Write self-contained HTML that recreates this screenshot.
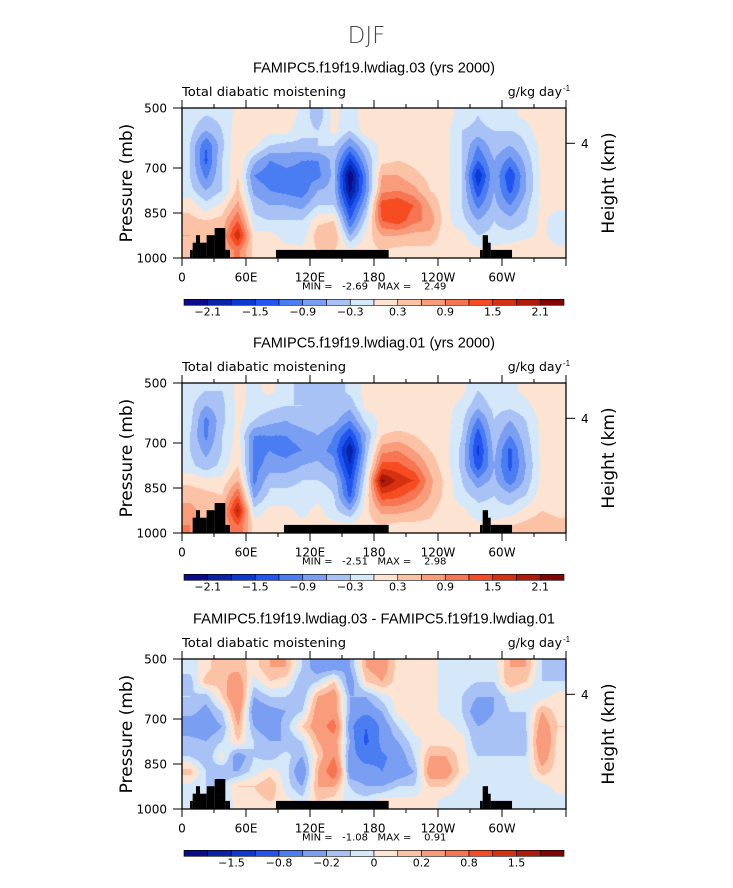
<!DOCTYPE html>
<html><head><meta charset="utf-8">
<style>
html,body{margin:0;padding:0;background:#fff;}
#wrap{position:relative;width:733px;height:888px;overflow:hidden;font-family:"Liberation Sans",sans-serif;}
canvas{position:absolute;}
svg{position:absolute;left:0;top:0;}
</style></head>
<body>
<div id="wrap">
<canvas id="c0" width="384" height="150" style="left:182px;top:108px"></canvas>
<canvas id="c1" width="384" height="150" style="left:182px;top:383px"></canvas>
<canvas id="c2" width="384" height="150" style="left:182px;top:659px"></canvas>
<svg id="s" width="733" height="888"></svg>
</div>
<script>
// ---- data ----
const lonCenters = [7.5,22.5,37.5,52.5,67.5,82.5,97.5,112.5,127.5,142.5,157.5,172.5,187.5,202.5,217.5,232.5,247.5,262.5,277.5,292.5,307.5,322.5,337.5,352.5];
const presCenters = [525,575,625,675,725,775,825,875,925,975];
const xTickLabels = ["0","60E","120E","180","120W","60W"];
const xTickLons = [0,60,120,180,240,300];
const yTickLabels = ["500","700","850","1000"];
const yTickValues = [500,700,850,1000];
const levelsAB = [-2.1,-1.8,-1.5,-1.2,-0.9,-0.6,-0.3,0,0.3,0.6,0.9,1.2,1.5,1.8,2.1];
const levelsC = [-1.8,-1.5,-1.2,-0.8,-0.4,-0.2,-0.1,0,0.1,0.2,0.4,0.8,1.2,1.5,1.8];
const cbLabelsAB = ["-2.1","-1.5","-0.9","-0.3","0.3","0.9","1.5","2.1"];
const cbLabelsC = ["-1.5","-0.8","-0.2","0","0.2","0.8","1.5"];
const palette = ["#0c0c8a","#0a22a8","#0a3ad2","#2255f0","#4a7cf2","#7a9ef2","#a8c2f6","#d4e8fa","#fde4d2","#fcc2a6","#f89c7c","#f77552","#f64c22","#d63212","#b01a08","#820404"];
const topoA = [[7.5,10,973],[10,13.1,949],[13.1,16.9,924],[16.9,23.1,949],[23.1,30.6,924],[30.6,40.6,900],[40.6,45,973],[88.1,193.75,973],[279.4,281.9,973],[281.9,286.9,924],[286.9,289.4,949],[289.4,309.4,973]];
const topoB = [[10,13.1,949],[13.1,16.9,924],[16.9,23.1,949],[23.1,30.6,924],[30.6,40.6,900],[40.6,45,973],[95.6,193.75,973],[279.4,281.9,973],[281.9,286.9,924],[286.9,289.4,949],[289.4,309.4,973]];

const field03 = [
[-0.1,-0.2,-0.3,-0.3,-0.3,-0.2,0.2,0.4,0.6,0.5],
[-0.3,-0.6,-1.2,-1.3,-1.0,-0.6,-0.2,0.3,0.3,0.4],
[-0.2,-0.3,-0.4,-0.3,-0.3,-0.3,0.1,0.4,0.6,0.6],
[0.1,0.2,0.3,0.3,0.3,0.4,0.7,1.2,1.8,1.0],
[0.1,0.2,0.1,-0.5,-0.9,-0.7,-0.4,-0.2,0.1,0.2],
[0.1,0.1,-0.3,-0.9,-1.1,-0.9,-0.6,-0.3,0.1,0.1],
[0.2,0.1,-0.4,-0.8,-1.0,-1.0,-0.6,-0.3,-0.1,0.1],
[-0.1,-0.2,-0.4,-0.9,-1.0,-1.1,-0.7,-0.3,-0.2,0.1],
[-0.5,-0.3,-0.3,-0.9,-1.0,-0.6,-0.3,0.2,0.5,0.3],
[0.1,0.1,-0.3,-0.5,-0.5,-0.5,-0.3,0.3,0.6,0.3],
[-0.2,-0.3,-0.9,-1.6,-2.4,-2.2,-1.6,-1.2,-0.6,0.1],
[0.2,0.2,-0.3,-0.6,-0.9,-0.9,-0.6,-0.2,0.1,0.2],
[0.3,0.3,0.1,0.2,0.6,0.8,1.4,1.2,0.6,0.3],
[0.1,0.1,0.1,0.3,0.6,0.9,1.5,1.4,0.6,0.2],
[0.1,0.1,0.1,0.2,0.4,0.7,1.2,1.0,0.5,0.2],
[0.1,0.1,0.1,0.1,0.2,0.3,0.6,0.8,0.5,0.2],
[0.1,0.1,0.1,0.1,0.1,0.1,0.1,0.1,0.1,0.1],
[-0.1,-0.3,-0.3,-0.3,-0.3,-0.3,-0.3,-0.2,0.1,0.1],
[-0.3,-0.4,-0.9,-1.2,-1.8,-1.4,-1.0,-0.6,-0.3,0.1],
[-0.1,-0.3,-0.4,-0.6,-0.6,-0.6,-0.5,-0.3,-0.2,0.1],
[-0.1,-0.3,-0.6,-1.0,-1.5,-1.3,-0.9,-0.5,-0.2,0.2],
[0.1,-0.2,-0.3,-0.5,-0.6,-0.6,-0.4,-0.3,-0.1,0.3],
[0.3,0.3,0.1,0.1,0.1,0.1,0.1,0.1,0.1,0.2],
[0.1,0.1,0.1,0.1,0.1,0.1,0.1,-0.2,-0.2,0.1]];

const field01 = [
[-0.1,-0.2,-0.2,-0.3,-0.3,-0.2,0.2,0.5,0.7,0.9],
[-0.3,-0.6,-1.0,-1.0,-0.7,-0.5,0.1,0.4,0.5,0.4],
[-0.3,-0.4,-0.4,-0.3,-0.3,-0.2,0.1,0.3,0.5,0.6],
[0.1,0.1,0.1,0.1,0.2,0.3,0.6,1.2,1.9,1.2],
[-0.1,-0.1,-0.3,-0.9,-1.0,-1.0,-1.0,-0.7,-0.2,0.2],
[0.1,-0.2,-0.5,-0.9,-0.9,-0.8,-0.4,-0.2,0.1,0.1],
[-0.2,-0.3,-0.6,-0.9,-1.0,-0.8,-0.4,-0.2,0.1,0.1],
[-0.4,-0.3,-0.4,-0.8,-0.9,-0.6,-0.3,-0.2,-0.1,0.1],
[-0.5,-0.4,-0.3,-0.6,-0.8,-0.5,-0.3,-0.1,0.1,0.1],
[-0.5,-0.3,-0.5,-0.9,-1.0,-0.8,-0.4,-0.3,-0.2,0.1],
[-0.2,-0.5,-0.9,-1.5,-2.1,-1.8,-1.5,-1.3,-0.6,0.1],
[0.1,0.1,-0.2,-0.6,-0.5,-0.3,-0.1,0.1,0.2,0.2],
[0.1,0.1,0.1,0.3,0.8,1.3,2.2,1.4,0.7,0.3],
[0.1,0.1,0.1,0.4,0.9,1.3,1.7,1.3,0.7,0.2],
[0.1,0.1,0.1,0.3,0.6,1.0,1.5,1.0,0.6,0.2],
[0.1,0.1,0.1,0.1,0.3,0.5,0.7,0.6,0.4,0.2],
[0.1,0.1,0.1,0.1,0.1,0.1,0.2,0.2,0.1,0.1],
[0.1,-0.1,-0.2,-0.3,-0.4,-0.4,-0.3,-0.2,0.1,0.1],
[-0.3,-0.5,-1.0,-1.4,-1.6,-1.4,-0.8,-0.4,-0.2,0.1],
[-0.1,-0.2,-0.3,-0.4,-0.5,-0.6,-0.5,-0.3,-0.2,0.1],
[-0.1,-0.2,-0.6,-0.9,-1.3,-1.3,-1.1,-0.5,-0.2,0.3],
[0.1,-0.1,-0.3,-0.4,-0.5,-0.6,-0.5,-0.3,0.1,0.4],
[0.2,0.2,0.1,0.1,0.1,0.1,0.1,0.2,0.3,0.5],
[0.1,0.1,0.1,0.1,0.1,0.1,0.2,0.2,0.2,0.4]];

const fieldDiff = [
[-0.05,-0.15,-0.1,-0.15,-0.3,-0.15,-0.1,0.15,-0.05,-0.1],
[0.05,0.15,-0.15,-0.25,-0.3,-0.2,-0.2,-0.1,-0.1,-0.1],
[0.2,0.15,0.1,-0.1,-0.2,-0.1,0.05,-0.2,-0.1,-0.1],
[0.15,0.3,0.4,0.3,0.2,0.1,-0.3,-0.2,0.1,0.05],
[0.05,-0.05,-0.2,-0.3,-0.2,-0.1,-0.1,-0.05,0.1,0.05],
[0.2,0.1,-0.1,-0.25,-0.3,-0.2,-0.15,0.05,0.2,0.1],
[0.2,0.05,-0.1,-0.2,-0.15,-0.2,-0.05,-0.05,-0.05,0.05],
[-0.1,-0.2,-0.2,-0.1,0.1,-0.1,-0.2,-0.35,-0.2,-0.05],
[-0.3,-0.1,0.2,0.3,0.3,0.2,0.1,0.2,0.2,0.1],
[-0.3,0.1,0.3,0.3,0.5,0.3,0.4,0.6,0.2,0.05],
[-0.2,-0.3,-0.2,-0.2,-0.3,-0.2,-0.3,-0.3,-0.1,-0.05],
[0.2,0.1,-0.2,-0.3,-0.8,-0.9,-0.5,-0.3,-0.2,-0.05],
[0.3,0.2,-0.05,-0.2,-0.3,-0.3,-0.45,-0.4,-0.2,0.05],
[0.05,0.05,0.05,0.05,-0.1,-0.2,-0.3,-0.3,-0.1,0.05],
[0.05,0.05,0.1,0.05,0.05,-0.05,-0.1,-0.2,-0.1,0.05],
[0.05,0.05,0.05,0.05,0.05,0.05,0.2,0.3,0.1,0.05],
[-0.05,-0.05,-0.05,-0.05,0.05,0.05,0.2,0.3,0.1,-0.05],
[-0.05,-0.05,-0.1,-0.1,-0.05,0.05,0.05,0.05,-0.05,-0.05],
[-0.05,-0.1,-0.2,-0.3,-0.2,-0.2,-0.1,-0.05,-0.05,-0.05],
[-0.05,-0.1,-0.2,-0.2,-0.15,-0.2,-0.1,-0.05,-0.05,-0.05],
[0.2,0.2,-0.05,-0.1,-0.2,-0.2,-0.1,-0.05,-0.05,-0.1],
[0.2,0.1,-0.1,-0.1,-0.1,-0.15,-0.1,-0.05,-0.1,-0.1],
[-0.1,-0.1,-0.05,0.2,0.3,0.4,0.3,0.15,-0.05,-0.05],
[-0.2,-0.1,0.05,0.05,0.1,0.05,0.05,0.05,0.05,-0.05]];

// ---- layout ----
const PX0 = 182, PW = 384, PH = 150;
const panels = [
 {top:108, field:field03, levels:levelsAB, cb:cbLabelsAB, topo:topoA, title:"FAMIPC5.f19f19.lwdiag.03 (yrs 2000)", tw:242, min:"-2.69", max:"2.49", key:"lwdiag03"},
 {top:383, field:field01, levels:levelsAB, cb:cbLabelsAB, topo:topoB, title:"FAMIPC5.f19f19.lwdiag.01 (yrs 2000)", tw:242, min:"-2.51", max:"2.98", key:"lwdiag01"},
 {top:659, field:fieldDiff, levels:levelsC, cb:cbLabelsC, topo:topoA, title:"FAMIPC5.f19f19.lwdiag.03 - FAMIPC5.f19f19.lwdiag.01", tw:362, min:"-1.08", max:"0.91", key:"difference"}
];
function xOf(lon){return PX0 + lon/360*PW;}
function yOf(p, top){return top + (p-500)/500*PH;}
function colorFor(v, levels){let i=0; while(i<levels.length && v>=levels[i]) i++; return palette[i];}
function sample(field, lon, p){
  let fi=(lon-lonCenters[0])/(lonCenters[1]-lonCenters[0]);
  let fj=(p-presCenters[0])/(presCenters[1]-presCenters[0]);
  fi=Math.max(0,Math.min(lonCenters.length-1,fi)); fj=Math.max(0,Math.min(presCenters.length-1,fj));
  const i0=Math.min(Math.floor(fi),lonCenters.length-2), j0=Math.min(Math.floor(fj),presCenters.length-2);
  const a=fi-i0, b=fj-j0;
  return field[i0][j0]*(1-a)*(1-b)+field[i0+1][j0]*a*(1-b)+field[i0][j0+1]*(1-a)*b+field[i0+1][j0+1]*a*b;
}
const NS="http://www.w3.org/2000/svg";
const svg=document.getElementById('s');
function mk(tag, attrs, parent, text){
  const e=document.createElementNS(NS,tag);
  for(const k in attrs) e.setAttribute(k,attrs[k]);
  if(text!==undefined) e.textContent=text;
  (parent||svg).appendChild(e); return e;
}
const sup=mk('text',{x:366.5,y:43,'text-anchor':'middle','font-size':23,fill:'#444','font-family':'DejaVu Sans, Liberation Sans, sans-serif','font-weight':'300'},svg,'DJF');



panels.forEach((P,k)=>{
  const cv=document.getElementById('c'+k).getContext('2d');
  const step=1;
  for(let px=0;px<PW;px+=step){
    for(let py=0;py<PH;py+=step){
      const lon=(px+step/2)/PW*360, p=500+(py+step/2)/PH*500;
      cv.fillStyle=colorFor(sample(P.field,lon,p),P.levels);
      cv.fillRect(px,py,step,step);
    }
  }
  const g=mk('g',{});
  
  
  const T=P.top;
  P.topo.forEach(s=>{
    const r=mk('rect',{x:xOf(s[0]),y:yOf(s[2],T),width:xOf(s[1])-xOf(s[0]),height:yOf(1000,T)-yOf(s[2],T),fill:'#000'},g);
    
    
  });
  const fr=mk('rect',{x:PX0,y:T,width:PW,height:PH,fill:'none',stroke:'#000','stroke-width':1.3},g);
  
  
  const tt=mk('text',{x:374,y:T-35.5,'text-anchor':'middle','font-size':14.5,fill:'#000',textLength:P.tw,lengthAdjust:'spacingAndGlyphs'},g,P.title);
  
  
  const lt=mk('text',{x:182,y:T-12,'font-size':12.5,fill:'#000','font-family':'DejaVu Sans, sans-serif',textLength:164,lengthAdjust:'spacingAndGlyphs'},g,'Total diabatic moistening');
  
  
  const ut=mk('text',{x:562,y:T-12,'text-anchor':'end','font-size':12.5,fill:'#000','font-family':'DejaVu Sans, sans-serif'},g,'g/kg day');
  
  
  mk('text',{x:563,y:T-17,'font-size':8,fill:'#000'},g,'-1');
  for(let lon=0;lon<=360;lon+=30){
    const major=lon%60===0, L=major?8:4, x=xOf(lon);
    mk('line',{x1:x,x2:x,y1:T+PH,y2:T+PH+L,stroke:'#000','stroke-width':1},g);
    mk('line',{x1:x,x2:x,y1:T,y2:T-L,stroke:'#000','stroke-width':1},g);
  }
  xTickLabels.forEach((lab,i)=>{
    const t=mk('text',{x:xOf(xTickLons[i]),y:T+PH+23.5,'text-anchor':'middle','font-size':12,fill:'#000','font-family':'DejaVu Sans, sans-serif'},g,lab);
    
    
  });
  yTickLabels.forEach((lab,i)=>{
    const y=yOf(yTickValues[i],T);
    mk('line',{x1:PX0-9,x2:PX0,y1:y,y2:y,stroke:'#000','stroke-width':1},g);
    const t=mk('text',{x:167,y:y+4.5,'text-anchor':'end','font-size':12,fill:'#000','font-family':'DejaVu Sans, sans-serif'},g,lab);
    
    
  });
  const yh=T+35.3;
  mk('line',{x1:566,x2:575,y1:yh,y2:yh,stroke:'#000','stroke-width':1},g);
  mk('text',{x:581,y:yh+4.5,'font-size':12,fill:'#000','font-family':'DejaVu Sans, sans-serif'},g,'4');
  const pl=mk('text',{x:0,y:0,'text-anchor':'middle','font-size':17,fill:'#000','font-family':'DejaVu Sans, sans-serif',transform:`translate(132,${T+75}) rotate(-90)`},g,'Pressure (mb)');
  
  
  const hl=mk('text',{x:0,y:0,'text-anchor':'middle','font-size':17,fill:'#000','font-family':'DejaVu Sans, sans-serif',transform:`translate(614,${T+75}) rotate(-90)`},g,'Height (km)');
  
  
  const mm=mk('text',{x:302,y:T+PH+31.3,'font-size':10,fill:'#000','font-family':'DejaVu Sans, sans-serif',style:'white-space:pre'},g,'MIN =   '+P.min+'   MAX =    '+P.max);
  
  
  const cb=mk('g',{},g);
  
  
  const cx0=184, cw=380/16, cy=T+PH+41.3;
  palette.forEach((c,i)=>{
    const r=mk('rect',{x:cx0+i*cw,y:cy,width:cw,height:6,fill:c,stroke:'#000','stroke-width':0.6},cb);
    
    
  });
  const stepIdx = P.cb.length===8 ? [1,3,5,7,9,11,13,15] : [2,4,6,8,10,12,14];
  P.cb.forEach((lab,i)=>{
    const t=mk('text',{x:cx0+stepIdx[i]*cw,y:cy+16,'text-anchor':'middle','font-size':11,fill:'#000','font-family':'DejaVu Sans, sans-serif'},cb,lab.replace('-','\u2212'));
    
    
  });
});
</script>
</body></html>
